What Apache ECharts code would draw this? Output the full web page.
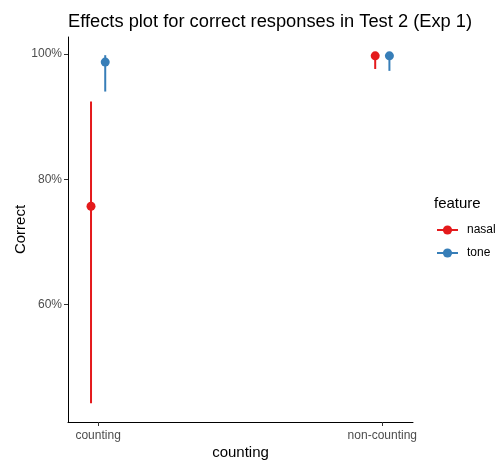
<!DOCTYPE html>
<html><head><meta charset="utf-8">
<script src="https://cdn.jsdelivr.net/npm/echarts@6/dist/echarts.min.js"></script>
<style>html,body{margin:0;padding:0;background:#fff}#c{width:497px;height:460px}</style>
</head><body><div id="c"></div>
<script>
var categories = ['counting', 'non-counting'];
var features = ['nasal', 'tone'];
var colors = ['#E41A1C', '#377EB8'];
// values in percent
var nasalFit   = [75.7, 99.7];
var nasalLower = [44.3, 97.6];
var nasalUpper = [92.4, 99.9];
var toneFit    = [98.7, 99.7];
var toneLower  = [94.0, 97.3];
var toneUpper  = [99.8, 99.9];
var yTicks = [60, 80, 100];

var dodge = [-0.025, 0.025];
var fits = [nasalFit, toneFit], lows = [nasalLower, toneLower], ups = [nasalUpper, toneUpper];

var series = [];
features.forEach(function (f, k) {
  var errData = categories.map(function (c, i) { return [i + 1 + dodge[k], lows[k][i], ups[k][i]]; });
  series.push({
    name: f, type: 'custom', data: errData, silent: true,
    renderItem: function (params, api) {
      var p1 = api.coord([api.value(0), api.value(1)]);
      var p2 = api.coord([api.value(0), api.value(2)]);
      return { type: 'line', shape: { x1: p1[0], y1: p1[1], x2: p2[0], y2: p2[1] },
        style: { stroke: colors[k], lineWidth: 2 } };
    },
    encode: { x: 0, y: [1, 2] }, z: 2
  });
  series.push({
    name: f, type: 'scatter', symbol: 'circle', symbolSize: 9,
    itemStyle: { color: colors[k], opacity: 1 },
    data: categories.map(function (c, i) { return [i + 1 + dodge[k], fits[k][i]]; }), z: 3
  });
});

var font = 'Liberation Sans, Arial';

// legend drawn as graphic (key: line + point, then label)
var legendGraphic = [
  { type: 'text', left: 434, top: 196, style: { text: 'feature', font: '15px "Liberation Sans", Arial', fill: '#000' } }
];
features.forEach(function (f, k) {
  var cy = 230 + k * 23;
  legendGraphic.push({ type: 'line', shape: { x1: 437, y1: cy, x2: 458, y2: cy }, style: { stroke: colors[k], lineWidth: 2 } });
  legendGraphic.push({ type: 'circle', shape: { cx: 447.5, cy: cy, r: 4.6 }, style: { fill: colors[k] } });
  legendGraphic.push({ type: 'text', x: 467, y: cy, style: { text: f, font: '12px "Liberation Sans", Arial', fill: '#000', verticalAlign: 'middle' } });
});

var chart = echarts.init(document.getElementById('c'), null, { renderer: 'canvas' });
chart.setOption({
  animation: false,
  backgroundColor: '#fff',
  title: { text: 'Effects plot for correct responses in Test 2 (Exp 1)', left: 63, top: 8,
    textStyle: { fontFamily: font, fontSize: 18.3, fontWeight: 'normal', color: '#000' } },
  grid: { left: 68, right: 84, top: 37, bottom: 38, outerBoundsMode: 'none', containLabel: false },
  graphic: legendGraphic,
  xAxis: {
    type: 'value', min: 0.894, max: 2.108,
    name: 'counting', nameLocation: 'middle', nameGap: 23, nameMoveOverlap: false,
    nameTextStyle: { fontFamily: font, fontSize: 15, color: '#000' },
    axisLine: { show: true, lineStyle: { color: '#000', width: 1 } },
    axisTick: { show: true, length: 4, lineStyle: { color: '#333' }, customValues: [1, 2] },
    axisLabel: { customValues: [1, 2], formatter: function (v) { return categories[Math.round(v) - 1]; },
      fontFamily: font, fontSize: 12, color: '#4d4d4d', margin: 8 },
    splitLine: { show: false }
  },
  yAxis: {
    type: 'value', min: 41.3, max: 102.7,
    name: 'Correct', nameLocation: 'middle', nameGap: 40, nameRotate: 90, nameMoveOverlap: false,
    nameTextStyle: { fontFamily: font, fontSize: 15, color: '#000' },
    axisLine: { show: true, lineStyle: { color: '#000', width: 1 } },
    axisTick: { show: true, length: 4, lineStyle: { color: '#333' }, customValues: yTicks },
    axisLabel: { customValues: yTicks, formatter: function (v) { return Math.round(v) + '%'; },
      fontFamily: font, fontSize: 12, color: '#4d4d4d', margin: 6 },
    splitLine: { show: false }
  },
  series: series
});
</script></body></html>
